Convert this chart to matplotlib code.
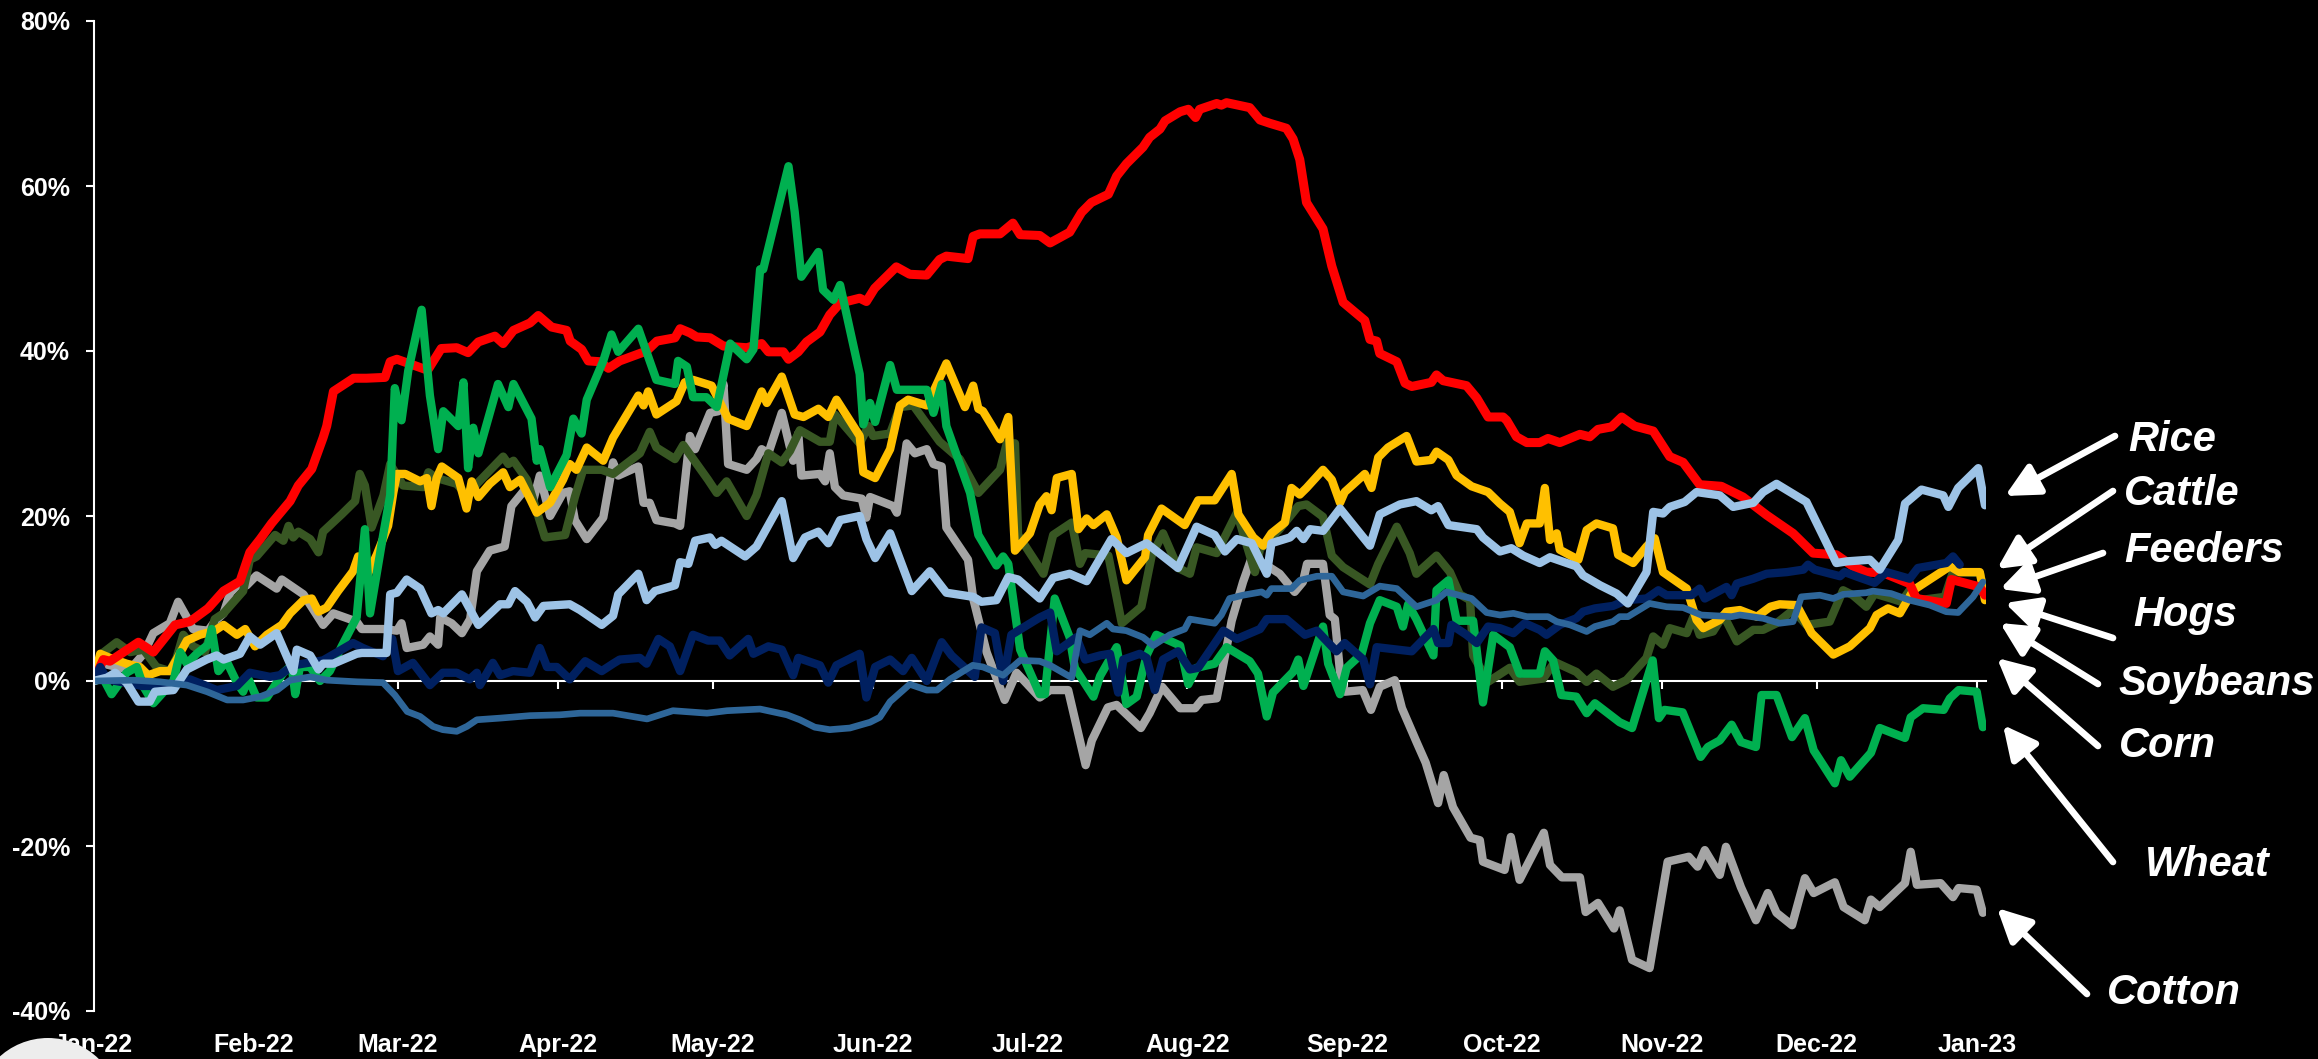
import matplotlib
matplotlib.use("Agg")
import matplotlib.pyplot as plt
import matplotlib.dates as mdates
from matplotlib.patches import Circle
import pandas as pd

# % change since 31-Dec-2021; x = days after 2022-01-01
hogs_day = [0, 1.9, 3.2, 8.7, 11.6, 15.8, 18.7, 22.2, 25.2, 28.4, 30.3, 32.3, 34.5, 38.1, 39.7, 42.3, 44.5, 45.2,
            46.5, 50.4, 52.9, 56.5, 57.5, 58.8, 64.2, 64.9, 67.4, 70.4, 72.6, 74.6, 77.8, 79.4, 81.4, 84.6, 86.2,
            88.8, 91.7, 92.4, 94.6, 95.9, 98.2, 99.8, 102.0, 107.2, 109.2, 112.7, 113.7, 115.6, 116.9, 119.5,
            122.1, 126.6, 129.5, 130.8, 133.7, 134.7, 136.6, 138.2, 140.8, 142.7, 144.7, 148.5, 149.8, 151.4,
            155.6, 158.2, 161.5, 164.0, 165.3, 169.5, 170.5, 171.8, 175.7, 178.2, 179.6, 183.4, 185.4, 189.2,
            191.5, 193.4, 196.7, 198.3, 200.2, 203.4, 204.7, 206.7, 207.7, 210.6, 212.2, 213.6, 214.4, 217.7,
            218.6, 219.6, 224.1, 226.1, 228.0, 231.2, 232.5, 233.8, 235.1, 238.3, 240.0, 242.2, 246.4, 247.4,
            248.7, 249.3, 252.6, 254.2, 255.5, 259.3, 260.3, 261.6, 266.1, 268.1, 270.3, 273.2, 273.9, 275.8,
            277.8, 280.3, 281.9, 284.2, 288.1, 290.0, 291.6, 294.2, 296.2, 298.7, 302.3, 305.5, 308.1, 311.3,
            315.5, 319.7, 324.3, 329.4, 333.3, 337.8, 341.0, 343.6, 346.9, 352.0, 353.3, 359.1, 360.1, 365.6,
            366.6]
hogs_pct = [0, 2.6, 2.4, 4.7, 3.5, 6.8, 7.2, 8.8, 10.9, 12.1, 15.6, 17.2, 19.1, 21.8, 23.7, 25.7, 29.5, 30.9,
            35.1, 36.7, 36.7, 36.8, 38.7, 39.0, 37.8, 37.8, 40.3, 40.4, 39.8, 41.1, 41.8, 40.9, 42.5, 43.4, 44.3,
            42.9, 42.5, 41.2, 40.2, 38.8, 38.7, 37.9, 38.8, 40.0, 41.2, 41.6, 42.7, 42.2, 41.7, 41.6,
            40.6, 40.4, 40.9, 39.9, 39.9, 39.0, 39.9, 41.1, 42.3, 44.4, 45.8, 46.4, 46.0, 47.6,
            50.2, 49.3, 49.2, 51.1, 51.5, 51.2, 53.9, 54.2, 54.2, 55.5, 54.1, 54.0, 53.1, 54.4,
            56.8, 58.0, 59.0, 61.2, 62.7, 64.7, 65.9, 66.9, 67.9, 69.0, 69.3, 68.3, 69.3, 70.0,
            69.8, 70.1, 69.5, 68.0, 67.6, 67.0, 65.7, 63.2, 58.0, 54.8, 50.3, 45.9, 43.7, 41.4,
            41.2, 39.7, 38.7, 36.1, 35.7, 36.2, 37.1, 36.4, 35.8, 34.3, 32.0, 32.0, 31.6, 29.6,
            28.9, 28.9, 29.4, 28.9, 29.9, 29.6, 30.5, 30.8, 32.0, 30.9, 30.3, 27.2, 26.5, 23.8,
            23.6, 22.3, 20.1, 17.9, 15.5, 15.3, 13.9, 13.2, 13.1, 11.8, 10.0, 9.4, 12.3, 11.4,
            10.4]

rice_day = [0, 2.6, 4.2, 6.4, 8.7, 10.9, 11.9, 15.5, 18.1, 21.9, 23.9, 25.2, 28.4, 30.3, 32.3, 35.5, 38.7, 39.4,
            42.0, 43.6, 44.5, 46.5, 51.0, 52.0, 56.8, 57.5, 58.8, 60.7, 63.3, 65.5, 66.8, 67.8, 71.4, 74.6,
            78.8, 80.4, 81.7, 84.0, 85.6, 87.2, 92.3, 94.3, 98.5, 100.7, 101.7, 105.6, 107.2, 108.8, 112.7,
            113.7, 115.3, 116.6, 119.5, 120.5, 121.7, 126.3, 128.5, 133.4, 135.6, 137.9, 140.5, 142.4, 144.7,
            148.5, 149.8, 151.5, 154.4, 158.6, 162.1, 165.3, 170.5, 172.1, 175.0, 177.3, 179.2, 183.4, 186.0,
            189.2, 192.5, 197.3, 200.2, 204.1, 210.2, 213.8, 217.3, 219.3, 221.6, 224.5, 227.4, 228.3, 231.9,
            233.2, 234.5, 235.8, 238.3, 241.6, 247.4, 249.3, 253.2, 256.4, 259.3, 260.6, 262.6, 268.1, 269.3,
            272.6, 274.8, 277.1, 280.3, 282.3, 287.4, 288.7, 292.0, 295.2, 297.4, 301.0, 302.3, 304.2, 305.5,
            308.4, 310.7, 315.2, 317.8, 321.7, 323.6, 326.2, 332.0, 337.8, 339.8, 344.3, 346.2, 349.8, 351.1,
            354.3, 358.5, 359.5, 361.4, 365.3, 366.6]
rice_pct = [0, 0.4, 1.0, -0.2, -2.5, -2.5, -1.3, -1.1, 1.4, 2.6, 3.1, 2.6, 3.3, 5.4, 4.4, 5.8, 1.2, 3.8,
            3.1, 1.4, 2.1, 2.1, 3.3, 3.4, 3.4, 10.5, 10.7, 12.3, 11.2, 8.2, 8.6, 8.2, 10.5, 6.8,
            9.3, 9.3, 10.9, 9.6, 7.7, 9.1, 9.3, 8.6, 6.8, 7.9, 10.5, 13.0, 9.8, 10.9, 11.6,
            14.4, 14.2, 17.0, 17.4, 16.5, 17.0, 15.1, 16.3, 21.8, 14.9, 17.4, 18.1, 16.7, 19.5,
            20.0, 17.2, 14.9, 17.9, 10.9, 13.3, 10.7, 10.2, 9.6, 9.8, 12.6, 12.3, 10.0, 12.5,
            13.0, 12.1, 17.2, 15.5, 16.7, 13.7, 18.7, 17.7, 15.7, 17.2, 16.7, 13.0, 16.7, 17.4,
            18.2, 17.2, 18.4, 18.2, 20.9, 16.4, 20.2, 21.4, 21.8, 20.7, 21.2, 18.9, 18.4, 17.4,
            15.7, 16.1, 15.2, 14.3, 15.0, 13.9, 12.8, 11.6, 10.6, 9.4, 13.2, 20.5, 20.3, 21.1,
            21.7, 22.9, 22.5, 21.1, 21.6, 22.9, 23.9, 21.7, 14.3, 14.5, 14.7, 13.5, 17.1, 21.5,
            23.2, 22.5, 21.1, 23.4, 25.8, 21.3]

soy_day = [0, 1.3, 3.2, 6.4, 9.0, 10.6, 12.9, 14.8, 16.1, 18.1, 20.6, 23.5, 25.2, 27.8, 29.4, 31.3, 33.6, 36.5,
           38.1, 40.7, 42.3, 43.6, 45.2, 47.4, 50.3, 51.3, 52.9, 54.9, 57.1, 58.1, 58.8, 60.4, 63.3, 64.6,
           65.5, 66.5, 67.5, 70.7, 72.3, 73.3, 74.6, 76.8, 79.4, 80.7, 82.7, 84.6, 85.9, 88.5, 91.0, 92.3,
           93.6, 95.6, 98.8, 100.7, 105.6, 106.6, 107.5, 109.1, 113.0, 114.6, 116.2, 119.8, 123.0, 126.6,
           129.5, 130.5, 133.4, 135.9, 137.6, 140.5, 142.4, 144.0, 148.5, 149.2, 151.5, 154.4, 156.3, 157.9,
           161.5, 162.8, 165.3, 168.9, 170.5, 171.5, 172.4, 175.7, 177.3, 178.6, 181.5, 183.4, 184.7, 185.7,
           186.7, 189.6, 190.9, 192.5, 193.8, 196.4, 198.3, 200.2, 203.8, 204.4, 207.0, 211.5, 214.1, 217.3,
           220.6, 221.9, 224.8, 226.7, 228.3, 230.9, 232.2, 233.8, 235.1, 238.3, 240.0, 241.6, 242.5, 246.4,
           247.7, 249.0, 250.9, 254.5, 256.4, 259.3, 260.3, 262.6, 264.2, 267.1, 270.3, 272.6, 274.5, 276.4,
           277.8, 280.3, 281.3, 282.3, 283.6, 284.2, 287.8, 289.4, 291.3, 294.5, 295.5, 298.4, 301.0, 302.6,
           304.2, 308.8, 310.7, 312.0, 315.2, 316.5, 319.1, 322.4, 325.0, 326.8, 330.1, 333.0, 337.2, 340.4,
           344.3, 345.6, 347.8, 350.1, 352.7, 359.8, 361.7, 365.6, 366.6]
soy_pct = [0, 3.3, 2.8, 2.1, 1.7, 0.7, 1.2, 1.2, 2.6, 4.9, 5.6, 6.1, 6.8, 5.6, 6.3, 4.2, 5.6, 6.8,
           8.2, 9.8, 10.0, 8.4, 8.9, 10.9, 13.3, 15.1, 12.6, 15.3, 18.8, 22.8, 25.1, 25.1, 24.2, 24.6,
           21.2, 24.6, 26.0, 24.6, 20.9, 24.2, 22.3, 23.9, 25.3, 23.5, 24.4, 22.1, 20.4, 21.6, 24.4, 26.3,
           25.6, 28.3, 26.7, 29.5, 34.6, 33.4, 35.1, 32.3, 33.9, 36.2, 36.5, 35.8, 31.8, 30.9,
           35.1, 33.7, 36.9, 32.3, 32.0, 33.0, 32.0, 34.1, 29.7, 25.3, 24.6, 28.1, 33.4, 34.1,
           33.4, 35.1, 38.5, 33.2, 35.8, 33.0, 32.7, 29.3, 32.0, 15.8, 17.9, 21.4, 22.4, 20.7,
           24.6, 25.1, 18.4, 19.7, 18.9, 20.2, 17.4, 12.2, 15.0, 17.7, 20.9, 18.9, 21.9, 21.9,
           25.1, 20.2, 17.4, 16.4, 17.9, 19.2, 23.4, 22.6, 23.4, 25.6, 24.4, 21.6, 22.9, 25.1,
           23.4, 27.1, 28.3, 29.7, 26.6, 26.8, 27.8, 26.8, 24.9, 23.6, 22.9, 21.5, 20.5, 16.7,
           19.1, 19.1, 23.4, 17.1, 17.9, 15.9, 14.7, 18.3, 19.1, 18.5, 15.3, 14.3, 16.3, 17.3,
           13.2, 11.2, 7.4, 6.4, 7.4, 8.4, 8.6, 7.8, 9.0, 9.3, 9.2, 5.8, 3.2, 4.2,
           6.4, 8.0, 8.8, 8.2, 11.0, 13.9, 13.2, 13.2, 9.8]

corn_day = [0, 1.6, 4.5, 7.1, 9.7, 12.2, 14.8, 16.1, 17.4, 19.3, 21.6, 23.5, 25.2, 29.0, 30.3, 31.6, 35.2, 36.8,
            37.8, 38.7, 39.7, 42.0, 43.6, 44.5, 48.1, 50.7, 51.6, 52.6, 53.9, 56.2, 57.5, 60.0, 63.9, 64.9,
            66.5, 70.4, 72.6, 74.3, 79.4, 80.4, 81.4, 84.0, 87.5, 91.4, 93.3, 94.9, 98.5, 100.7, 105.9, 107.8,
            109.1, 112.7, 114.3, 119.1, 120.8, 122.7, 126.6, 128.5, 130.8, 133.4, 135.0, 136.9, 140.8, 142.7,
            143.7, 148.5, 150.2, 151.1, 154.4, 156.3, 158.9, 164.0, 167.9, 171.5, 175.7, 177.0, 178.6, 179.2,
            181.5, 184.1, 186.0, 189.6, 191.2, 192.2, 196.7, 199.3, 203.1, 205.1, 207.3, 210.2, 212.5, 213.8,
            217.7, 221.6, 225.1, 226.1, 229.9, 233.5, 235.1, 238.3, 240.0, 242.2, 247.4, 249.0, 252.6, 255.1,
            256.4, 260.3, 262.9, 264.8, 266.8, 267.4, 270.3, 274.5, 276.4, 281.0, 283.2, 287.4, 289.4, 291.3,
            294.5, 297.1, 301.0, 302.3, 304.2, 305.5, 308.8, 310.1, 311.3, 313.9, 315.9, 318.5, 321.7, 323.6,
            326.2, 329.4, 332.0, 336.5, 339.1, 341.0, 343.6, 345.2, 348.4, 350.4, 352.0, 353.9, 358.8, 360.4,
            365.6, 366.6]
corn_pct = [0, 3.3, 4.7, 3.5, 3.8, 1.7, 1.2, 2.8, 5.6, 4.2, 3.5, 7.5, 8.2, 10.9, 14.7, 15.1, 17.7, 17.0,
            18.8, 17.4, 18.1, 17.2, 15.6, 18.1, 20.2, 21.8, 25.1, 23.7, 18.6, 22.5, 26.3, 23.7, 23.5, 25.3,
            24.6, 23.9, 22.3, 23.9, 27.2, 26.3, 26.7, 24.4, 17.4, 17.7, 22.3, 25.6, 25.6, 25.1, 27.6, 30.2,
            28.3, 26.9, 28.6, 24.4, 22.8, 24.2, 20.0, 22.5, 27.6, 26.5, 27.9, 30.4, 29.0, 29.0,
            32.3, 28.8, 30.9, 29.7, 30.0, 33.2, 33.4, 29.0, 26.9, 22.8, 25.6, 28.8, 28.8, 17.7,
            15.5, 13.0, 17.7, 19.2, 14.2, 15.5, 15.2, 7.0, 9.0, 15.2, 17.9, 13.7, 13.0, 16.2,
            15.5, 20.4, 13.2, 16.0, 18.4, 21.2, 21.4, 19.9, 15.2, 13.8, 11.7, 14.2, 18.7, 15.5,
            13.0, 15.2, 13.2, 10.5, 9.8, 3.1, -0.1, 1.6, -0.1, 0.3, 2.3, 1.1, -0.1, 0.9,
            -0.7, 0.1, 2.8, 5.4, 4.4, 6.4, 5.8, 7.8, 5.6, 6.0, 8.0, 4.8, 6.2, 6.2,
            7.0, 8.6, 6.8, 7.2, 11.0, 10.4, 9.0, 10.6, 10.0, 9.6, 11.0, 9.8, 10.2, 13.2,
            13.1, 10.4]

wheat_day = [0, 1.9, 3.5, 5.1, 6.4, 8.4, 9.7, 11.6, 15.5, 16.8, 18.1, 20.0, 22.2, 22.9, 24.2, 25.8, 27.8, 29.0,
             30.0, 31.6, 33.6, 36.8, 38.4, 39.1, 40.0, 42.0, 43.9, 45.8, 48.1, 51.0, 52.6, 53.6, 56.2, 57.5,
             58.4, 59.7, 61.0, 63.6, 65.2, 66.8, 67.8, 70.7, 71.7, 72.6, 73.6, 74.6, 78.4, 80.4, 81.4, 84.9,
             85.9, 86.5, 88.5, 91.7, 93.0, 94.6, 95.6, 98.8, 100.4, 101.7, 105.6, 109.1, 112.7, 113.3, 115.0,
             116.2, 118.8, 120.8, 123.4, 126.6, 127.9, 129.2, 129.8, 134.7, 135.9, 137.2, 140.5, 141.4, 143.4,
             144.7, 148.5, 149.2, 150.5, 151.5, 154.4, 155.7, 161.5, 162.8, 164.4, 165.3, 169.9, 171.5, 175.0,
             176.3, 177.3, 179.6, 183.4, 184.4, 186.3, 189.2, 190.2, 193.8, 195.1, 198.3, 200.2, 202.2, 204.1,
             206.0, 210.6, 212.2, 213.8, 217.3, 219.6, 224.1, 225.7, 227.4, 228.6, 232.5, 233.5, 234.5, 238.3,
             239.3, 241.6, 242.9, 245.8, 247.4, 249.3, 252.6, 253.8, 254.8, 256.4, 259.7, 260.3, 262.6, 264.2,
             267.4, 269.3, 271.3, 274.5, 276.4, 280.3, 281.3, 282.9, 284.5, 287.4, 289.4, 291.0, 295.8, 298.2,
             302.2, 303.4, 304.5, 308.0, 311.5, 312.9, 315.2, 317.5, 319.3, 322.2, 323.3, 326.2, 329.2, 331.7,
             333.4, 337.5, 338.7, 340.4, 344.5, 346.2, 351.1, 352.2, 354.6, 358.6, 359.8, 361.5, 365.0, 366.2]
wheat_pct = [0, 0.3, -1.6, -0.2, 1.0, 1.7, -0.7, -2.7, 0.0, 3.5, 2.1, 3.3, 4.4, 6.3, 1.2, 2.4, -0.2, -1.3,
             0.3, -2.0, -2.0, 1.0, 1.9, -1.6, 1.7, 1.7, 0.0, 1.2, 4.2, 7.7, 18.4, 8.2, 17.9, 22.5,
             35.5, 31.6, 37.6, 45.0, 34.6, 28.1, 32.7, 30.9, 36.2, 25.8, 30.7, 27.6, 36.0, 33.2, 36.0, 31.8,
             26.7, 28.1, 23.5, 27.4, 31.8, 30.0, 34.1, 38.8, 42.0, 39.9, 42.7, 36.5, 36.0, 38.8, 38.1,
             34.4, 34.4, 33.2, 40.9, 39.0, 40.2, 49.9, 49.9, 62.4, 56.9, 49.0, 52.0, 47.4, 46.2,
             48.0, 37.2, 31.1, 33.7, 31.4, 38.3, 35.3, 35.3, 32.5, 36.0, 30.9, 22.8, 17.7, 14.0,
             15.1, 14.2, 3.8, -1.6, -1.6, 10.0, 5.3, 1.6, -1.9, 0.6, 4.1, -2.8, -1.9, 3.1,
             5.6, 4.3, -0.4, 1.6, 2.1, 4.1, 2.4, 0.9, -4.3, -1.4, 1.1, 2.6, -0.6, 6.6,
             2.1, -1.6, 1.6, 3.3, 7.0, 9.8, 9.0, 6.6, 9.3, 7.5, 3.1, 11.0, 12.2, 7.3,
             7.3, -2.6, 5.6, 4.1, 0.9, 0.9, 3.6, 2.5, -1.7, -1.9, -3.9, -2.7, -5.0, -5.7,
             2.5, -4.5, -3.5, -3.8, -9.2, -8.0, -7.2, -5.3, -7.4, -8.0, -1.7, -1.7, -6.8, -4.5,
             -8.4, -12.4, -9.6, -11.6, -8.7, -5.7, -6.9, -4.4, -3.3, -3.5, -2.1, -1.1, -1.3, -5.6]

cotton_day = [0, 1.9, 4.5, 7.1, 9.7, 11.6, 14.8, 16.4, 18.1, 19.3, 22.2, 23.5, 25.2, 26.5, 28.4, 29.7, 31.6,
              35.5, 36.5, 40.7, 44.5, 46.5, 51.0, 52.0, 56.2, 58.8, 59.7, 60.7, 63.9, 65.2, 66.8, 67.2, 69.4,
              71.4, 73.0, 74.3, 76.8, 79.7, 81.0, 84.0, 85.2, 86.5, 88.5, 91.0, 92.3, 93.3, 95.6, 98.8, 100.7,
              101.7, 105.6, 106.6, 107.8, 109.1, 112.7, 113.7, 115.6, 116.6, 119.5, 121.1, 122.1, 123.0, 126.6,
              128.5, 129.5, 130.8, 133.4, 135.6, 136.6, 137.2, 140.8, 141.8, 142.7, 143.7, 145.3, 148.9, 149.8,
              150.5, 155.0, 155.7, 157.6, 159.2, 161.5, 162.8, 164.4, 165.3, 169.5, 170.5, 173.1, 176.6, 178.9,
              183.4, 185.4, 188.9, 192.3, 193.5, 196.6, 198.3, 203.0, 204.7, 207.1, 210.6, 213.5, 214.8, 217.7,
              218.7, 220.6, 222.8, 224.5, 227.4, 229.9, 232.8, 234.4, 235.2, 238.3, 239.6, 240.6, 241.6, 242.5,
              246.0, 247.6, 249.3, 252.2, 253.6, 256.5, 258.2, 260.6, 261.7, 263.5, 266.9, 268.7, 269.3, 273.5,
              274.7, 276.4, 281.1, 282.3, 284.6, 288.1, 289.2, 291.6, 294.7, 295.8, 298.2, 301.6, 305.1, 309.2,
              310.9, 312.3, 315.2, 316.4, 319.3, 322.2, 324.5, 326.2, 329.2, 331.7, 333.4, 337.5, 339.2, 343.3,
              344.5, 346.2, 351.1, 352.2, 353.4, 358.0, 360.4, 361.5, 365.0, 366.2]
cotton_pct = [0, 2.1, 1.7, 1.4, 3.3, 5.8, 7.0, 9.6, 7.7, 6.3, 6.1, 7.2, 8.2, 10.7, 11.9, 11.6, 12.8,
              11.2, 12.3, 10.5, 6.8, 8.2, 7.2, 6.3, 6.3, 6.1, 7.0, 4.0, 4.4, 5.4, 4.4, 7.7, 7.0,
              5.8, 7.5, 13.3, 15.8, 16.3, 21.2, 23.5, 21.8, 24.9, 20.0, 22.8, 23.0, 19.5, 17.2, 19.8, 26.5,
              24.9, 26.0, 21.6, 21.6, 19.5, 19.1, 18.8, 29.7, 28.1, 32.5, 32.7, 36.0, 26.3, 25.6,
              26.9, 28.1, 27.6, 32.5, 26.7, 30.0, 24.9, 25.1, 24.2, 27.6, 23.5, 22.5, 22.1, 19.8,
              22.3, 21.2, 20.4, 28.8, 27.6, 28.1, 26.3, 26.0, 18.6, 14.7, 10.0, 3.5, -2.3, 1.0,
              -2.0, -1.1, -1.1, -10.2, -7.2, -3.2, -2.9, -5.7, -3.9, -0.7, -3.3, -3.3, -2.3, -2.1,
              1.1, 7.3, 12.0, 15.0, 14.0, 13.0, 10.8, 12.0, 14.2, 14.2, 8.0, 7.5, 1.1, -1.3,
              -1.1, -3.5, -0.7, 0.1, -3.3, -7.5, -9.9, -14.8, -11.4, -15.3, -19.0, -19.3, -21.9, -22.9,
              -18.9, -24.1, -18.4, -22.3, -23.8, -23.8, -28.0, -26.9, -30.0, -27.8, -33.8, -34.8, -21.9, -21.3,
              -22.5, -20.5, -23.5, -20.1, -25.0, -29.0, -25.7, -28.1, -29.6, -23.9, -25.7, -24.4, -27.4, -29.0,
              -26.5, -27.4, -24.5, -20.7, -24.7, -24.5, -26.2, -25.1, -25.3, -28.1]

cattle_day = [0, 1.3, 2.6, 9.4, 14.8, 18.7, 23.9, 27.8, 30.3, 34.2, 36.1, 38.7, 44.5, 50.3, 52.2, 56.1, 57.9,
              59.0, 61.9, 65.2, 67.7, 70.4, 72.9, 74.3, 74.9, 77.4, 78.8, 81.3, 84.6, 86.5, 87.9, 89.8, 92.3,
              95.3, 98.5, 100.7, 102.0, 105.9, 107.2, 109.5, 111.7, 113.7, 116.2, 119.1, 121.4, 123.3, 126.9,
              127.9, 130.8, 133.4, 135.6, 136.6, 140.8, 142.4, 144.0, 148.5, 149.8, 151.5, 154.4, 156.9, 158.6,
              161.5, 164.4, 166.3, 170.8, 172.1, 174.7, 176.3, 177.9, 183.4, 185.4, 186.7, 190.5, 192.2, 195.1,
              197.0, 198.6, 199.6, 202.8, 204.1, 205.7, 207.3, 210.2, 212.5, 214.1, 219.0, 221.6, 226.1, 227.4,
              231.2, 234.8, 237.1, 240.9, 242.5, 246.1, 247.4, 248.7, 255.5, 259.7, 260.6, 262.6, 263.2, 266.1,
              268.1, 270.3, 272.6, 275.2, 277.4, 280.3, 281.6, 284.2, 287.4, 288.7, 291.0, 294.5, 297.1, 301.0,
              303.3, 304.9, 309.7, 311.3, 312.3, 316.5, 317.5, 318.5, 321.7, 324.3, 328.2, 331.4, 332.3, 333.6,
              338.5, 339.4, 342.0, 345.2, 347.5, 352.0, 353.6, 359.1, 360.4, 361.7]
cattle_pct = [0, 1.7, 0.2, -0.6, -0.6, 0.2, -1.1, -0.6, 1.0, 0.5, 0.7, 1.9, 2.5, 4.6, 4.0, 3.0, 5.1,
              1.2, 2.2, -0.5, 1.0, 1.0, 0.2, 1.0, -0.5, 2.2, 0.7, 1.2, 1.0, 4.0, 1.7, 1.7, 0.2,
              2.4, 1.2, 2.1, 2.6, 2.8, 2.1, 5.1, 4.2, 1.2, 5.6, 4.9, 4.9, 3.1, 5.1,
              3.3, 4.2, 3.8, 0.7, 2.8, 1.9, -0.2, 1.9, 3.3, -2.0, 1.7, 2.6, 1.2, 2.8,
              0.0, 4.7, 3.1, 0.5, 6.5, 5.8, 0.0, 5.6, 7.7, 8.3, 3.6, 5.3, 2.6, 3.1,
              3.3, -1.4, 2.6, 3.3, 2.8, -1.1, 2.6, 3.6, 1.4, 1.6, 6.1, 5.1, 6.3, 7.5,
              7.5, 5.6, 6.1, 3.6, 4.6, 2.6, -0.4, 4.1, 3.6, 6.3, 4.6, 4.6, 6.8, 5.6,
              4.6, 6.6, 6.4, 5.8, 7.0, 6.2, 5.6, 6.8, 7.6, 8.4, 8.8, 9.1, 9.8, 10.0,
              11.0, 10.4, 10.4, 11.2, 10.0, 11.4, 10.4, 11.8, 12.4, 13.0, 13.2, 13.5, 14.1, 13.5,
              12.7, 13.2, 12.6, 11.9, 13.2, 12.4, 13.7, 14.3, 15.1, 14.1]

feeder_day = [0, 7.7, 12.9, 18.1, 22.0, 25.9, 29.0, 32.3, 35.6, 38.1, 42.0, 45.3, 51.1, 56.1, 58.4, 60.8, 63.3,
              65.8, 67.7, 70.4, 72.4, 74.3, 78.8, 84.6, 90.4, 94.3, 100.7, 107.3, 112.3, 118.9, 122.8, 129.2,
              134.4, 136.9, 139.8, 142.7, 146.6, 150.5, 152.4, 154.4, 158.2, 161.5, 163.5, 166.0, 170.4, 172.4,
              176.3, 179.6, 183.4, 185.4, 189.6, 191.2, 193.1, 196.4, 197.6, 200.2, 203.4, 205.4, 208.6, 211.5,
              212.5, 217.3, 218.6, 220.2, 222.8, 226.4, 227.4, 228.3, 232.2, 233.8, 237.1, 240.0, 242.2, 246.1,
              249.3, 252.6, 256.4, 260.3, 262.2, 267.1, 270.0, 272.6, 275.2, 277.8, 281.9, 283.6, 286.2, 289.4,
              291.0, 294.5, 295.8, 297.4, 301.6, 304.9, 308.1, 311.6, 317.5, 319.1, 323.6, 326.8, 329.4, 331.0,
              334.6, 337.2, 339.1, 343.6, 344.9, 348.4, 352.0, 355.9, 359.1, 361.4, 364.3, 366.2]
feeder_pct = [0, 0.1, -0.1, -0.5, -1.3, -2.3, -2.3, -1.9, -1.1, 0.1, 0.5, 0.1, -0.1, -0.2, -1.7, -3.7, -4.3,
              -5.5, -5.9, -6.1, -5.5, -4.7, -4.5, -4.2, -4.1, -3.9, -3.9, -4.6, -3.6, -3.9, -3.6, -3.4,
              -4.1, -4.7, -5.6, -5.9, -5.7, -5.0, -4.4, -2.5, -0.4, -1.1, -1.1, 0.2, 1.9, 1.7,
              0.7, 2.5, 2.4, 1.9, 0.4, 6.1, 5.6, 7.0, 6.3, 6.1, 5.3, 4.3, 5.6, 6.3,
              7.5, 7.0, 8.0, 10.0, 10.4, 10.8, 10.4, 11.2, 11.2, 12.2, 12.7, 12.7, 10.8, 10.3,
              11.5, 11.2, 9.0, 9.8, 10.8, 10.0, 8.3, 8.0, 8.2, 7.8, 7.8, 7.2, 6.8, 6.0,
              6.6, 7.2, 7.8, 7.8, 9.4, 9.0, 8.9, 8.0, 7.8, 8.0, 7.6, 7.0, 7.2, 10.2,
              10.4, 10.0, 10.5, 10.7, 10.9, 10.6, 9.8, 9.2, 8.4, 8.3, 10.2, 12.0]

# drawing order: first = bottom
series = [
    (cotton_day, cotton_pct, '#A5A5A5', 6.0),
    (corn_day, corn_pct, '#385723', 6.0),
    (soy_day, soy_pct, '#FFC000', 6.0),
    (hogs_day, hogs_pct, '#FF0000', 6.5),
    (wheat_day, wheat_pct, '#00B050', 6.0),
    (cattle_day, cattle_pct, '#002060', 6.0),
    (rice_day, rice_pct, '#9DC3E6', 6.0),
    (feeder_day, feeder_pct, '#2E6699', 4.8),
]

labels = ['Rice', 'Cattle', 'Feeders', 'Hogs', 'Soybeans', 'Corn', 'Wheat', 'Cotton']

t0 = pd.Timestamp('2022-01-01')


def to_dates(days):
    return t0 + pd.to_timedelta(days, unit='D')


W, H = 2318, 1059
fig = plt.figure(figsize=(W / 100, H / 100), dpi=100, facecolor='black')
ax = fig.add_axes([93.5 / W, 1 - 1011 / H, (1986 - 93.5) / W, (1011 - 21) / H])
ax.set_facecolor('black')

for d, p, c, lw in series:
    ax.plot(to_dates(d), p, color=c, lw=lw, solid_joinstyle='round', solid_capstyle='round')

ax.set_ylim(-40, 80)
ax.set_yticks(range(-40, 81, 20))
ax.set_yticklabels([f'{v}%' for v in range(-40, 81, 20)],
                   fontsize=18, fontweight='bold', color='white', family='Liberation Sans')
ax.set_xlim(t0, t0 + pd.Timedelta(days=366.8))

for s in ['top', 'right']:
    ax.spines[s].set_visible(False)
ax.spines['left'].set_color('white')
ax.spines['left'].set_linewidth(1.5)
ax.spines['bottom'].set_position(('data', 0))
ax.spines['bottom'].set_color('white')
ax.spines['bottom'].set_linewidth(1.5)
ax.spines['bottom'].set_zorder(1)

ax.tick_params(axis='y', direction='out', length=6, width=1.5, color='white', pad=11)
ax.xaxis.set_major_locator(mdates.MonthLocator())
ax.tick_params(axis='x', direction='out', length=6, width=1.5, color='white', labelbottom=False)

months = pd.date_range('2022-01-01', '2023-01-01', freq='MS')
for m in months:
    ax.text(m, -0.034, m.strftime('%b-%y'), transform=ax.get_xaxis_transform(),
            ha='center', va='center', color='white', fontsize=18, fontweight='bold',
            family='Liberation Sans', clip_on=False)

# labels with arrows on the right (figure pixel positions)
label_xy = [(2128, 440), (2124, 494), (2124, 551), (2133, 615), (2118, 684), (2119, 746), (2145, 865),
            (2107, 993)]
arrow_from = [(2115, 436), (2113, 491), (2103, 553), (2113, 638), (2098, 684), (2098, 746), (2113, 862),
              (2087, 994)]
arrow_to = [(2005, 496), (1997, 569), (2000, 589), (2005, 603), (2000, 623), (1997, 658), (2003, 725),
            (1997, 908)]

for name, (tx, ty), (ax0, ay0), (ax1, ay1) in zip(labels, label_xy, arrow_from, arrow_to):
    fig.text(tx / W, 1 - ty / H, name, ha='left', va='center', color='white', fontsize=30,
             fontweight='bold', fontstyle='italic', family='Liberation Sans')
    ax.annotate('', xy=(ax1, H - ay1), xycoords='figure pixels',
                xytext=(ax0, H - ay0), textcoords='figure pixels',
                arrowprops=dict(arrowstyle='-|>,head_length=1.0,head_width=0.5', color='white',
                                lw=4.8, shrinkA=0, shrinkB=0, mutation_scale=20),
                annotation_clip=False)

# white blob in the bottom-left corner
fig.patches.append(Circle((48, H - 1110), 72, transform=None, facecolor='#EDEDED',
                          edgecolor='none', zorder=10))

fig.savefig('out.png', dpi=100, facecolor='black')
